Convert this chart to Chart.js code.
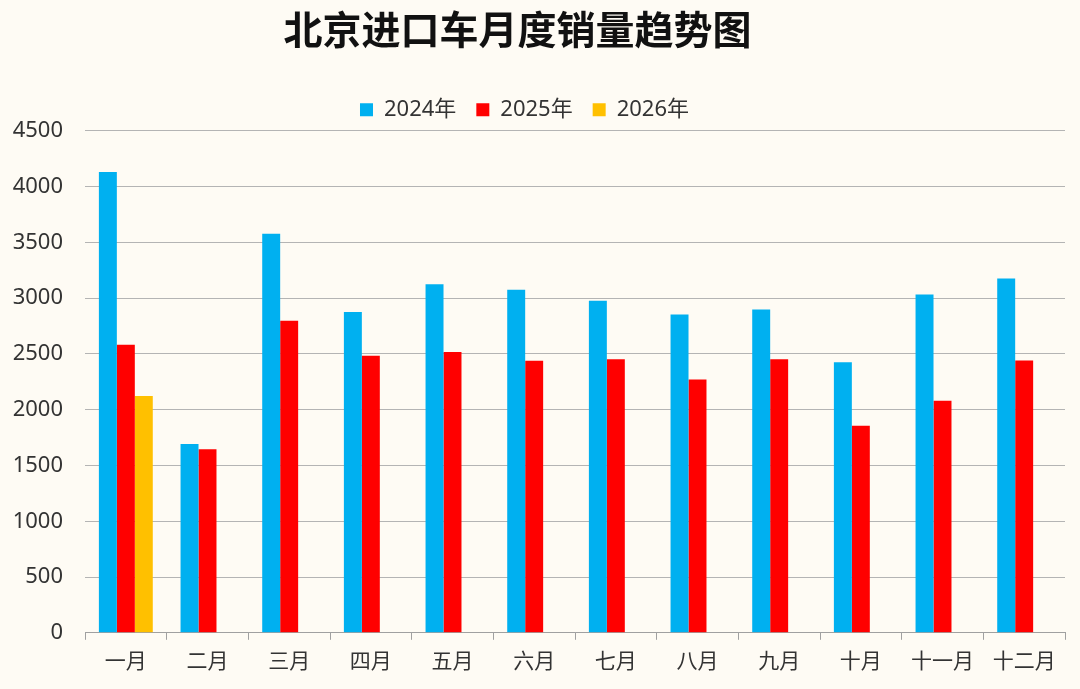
<!DOCTYPE html>
<html>
<head>
<meta charset="utf-8">
<script src="https://cdn.jsdelivr.net/npm/chart.js@4"></script>
<style>
  html, body { margin: 0; padding: 0; background: #fefbf4; }
  #wrap { width: 1080px; height: 689px; }
</style>
</head>
<body>
<div id="wrap"><canvas id="bar-chart"></canvas></div>
<script>
// 月份 + 各年销量
const months = ['一月', '二月', '三月', '四月', '五月', '六月', '七月', '八月', '九月', '十月', '十一月', '十二月'];
const sales2024 = [4130, 1692, 3577, 2875, 3125, 3076, 2976, 2853, 2898, 2426, 3032, 3176];
const sales2025 = [2582, 1645, 2798, 2484, 2517, 2439, 2453, 2271, 2453, 1856, 2081, 2441];
const sales2026 = [2122, null, null, null, null, null, null, null, null, null, null, null];
const yTicks = [0, 500, 1000, 1500, 2000, 2500, 3000, 3500, 4000, 4500];

const FONT = "'Noto Sans', 'Noto Sans CJK SC', sans-serif";

// 标题和图例在原图里略偏左
const shiftHeader = {
  id: 'shiftHeader',
  afterLayout(chart) {
    if (chart.titleBlock) { chart.titleBlock.left -= 40; }
    if (chart.legend) { chart.legend.left -= 26; }
  }
};

const ctx = document.getElementById('bar-chart');

new Chart(ctx, {
  type: 'bar',
  data: {
    labels: months,
    datasets: [
      { label: '2024年', data: sales2024, backgroundColor: '#00b0f0' },
      { label: '2025年', data: sales2025, backgroundColor: '#ff0000' },
      { label: '2026年', data: sales2026, backgroundColor: '#ffc000' }
    ]
  },
  plugins: [shiftHeader],
  options: {
    responsive: true,
    maintainAspectRatio: false,
    animation: false,
    datasets: {
      bar: { barPercentage: 1.0, categoryPercentage: 0.66 }
    },
    layout: { padding: { left: 10, right: 15, top: 6, bottom: 4 } },
    plugins: {
      title: {
        display: true,
        text: '北京进口车月度销量趋势图',
        color: '#111',
        font: { family: "'Noto Sans CJK SC', sans-serif", size: 39, weight: 'bold' },
        padding: { top: 0, bottom: 26 }
      },
      legend: {
        position: 'top',
        labels: {
          boxWidth: 13,
          boxHeight: 13,
          padding: 20,
          color: '#333',
          font: { family: FONT, size: 22 }
        }
      },
      tooltip: { enabled: false }
    },
    scales: {
      x: {
        grid: {
          drawOnChartArea: false,
          drawTicks: true,
          tickLength: 7,
          color: '#a0a0a0'
        },
        border: { display: true, color: '#a0a0a0' },
        ticks: {
          color: '#333',
          padding: 10,
          font: { family: FONT, size: 21 }
        }
      },
      y: {
        min: 0,
        max: 4500,
        afterBuildTicks: axis => { axis.ticks = yTicks.map(v => ({ value: v })); },
        afterFit: axis => { axis.width = 75; },
        grid: {
          color: '#b4b4b4',
          drawTicks: false
        },
        border: { display: false },
        ticks: {
          color: '#333',
          padding: 22,
          font: { family: FONT, size: 22 },
          callback: v => String(v)
        }
      }
    }
  }
});
</script>
</body>
</html>
